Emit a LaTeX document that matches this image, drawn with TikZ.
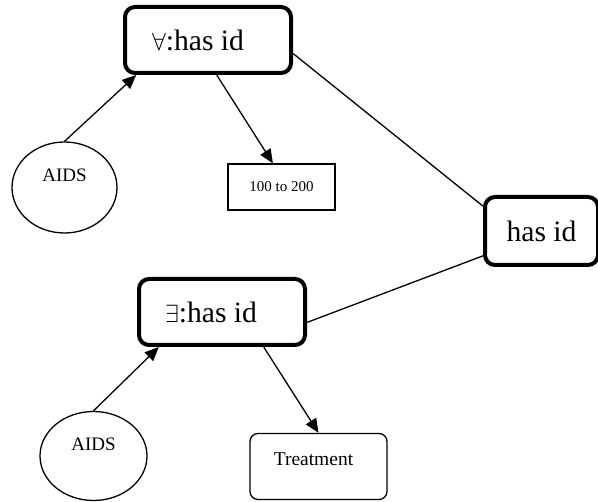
\documentclass[tikz,border=0pt]{standalone}
\usepackage{fontspec}
\setmainfont{Liberation Serif}
\usepackage{tikz}
\usetikzlibrary{arrows.meta,shapes.geometric}

\begin{document}
\begin{tikzpicture}[x=1pt,y=1pt]
  \tikzstyle{relbox}=[draw,rounded corners=10pt,line width=4pt,minimum width=166pt,minimum height=66pt,font=\fontsize{29.6}{34}\selectfont]
  \tikzstyle{concept}=[draw,ellipse,line width=1.3pt,font=\fontsize{19}{22}\selectfont,text depth=24pt]
  \tikzstyle{link}=[line width=1.3pt]
  \tikzstyle{arr}=[link,-{Triangle[length=14pt,width=12pt]}]
  \useasboundingbox (0,0) rectangle (598,502);
  \node[relbox] (fa) at (208,462) {\hspace*{-20pt}$\forall$:has id};
  \node[concept,minimum width=105pt,minimum height=91pt] (aids1) at (64.5,314.5) {AIDS};
  \node[draw,line width=1.3pt,minimum width=107pt,minimum height=46pt,font=\fontsize{15}{18}\selectfont] (range) at (281.5,315) {100 to 200};
  \node[relbox,minimum width=113pt,minimum height=68pt] (hasid) at (541.5,271) {has id};
  \node[relbox] (ex) at (222,190) {\hspace*{-22pt}$\exists$:has id};
  \node[concept,minimum width=107pt,minimum height=89pt] (aids2) at (93.5,46) {AIDS};
  \node[draw,rounded corners=8pt,line width=1.3pt,minimum width=137pt,minimum height=66pt,font=\fontsize{19.5}{22}\selectfont,text depth=14pt] (treat) at (318.5,35.5) {\hspace*{-10pt}Treatment};
  \draw[arr] (aids1.north) -- (fa.206);
  \draw[arr] (fa.-76) -- (range.110);
  \draw[link] (fa.-9) -- (hasid.157);
  \draw[link] (hasid.203) -- (ex.-7);
  \draw[arr] (aids2.north) -- (ex.209);
  \draw[arr] (ex.-40) -- (treat.north);
\end{tikzpicture}
\end{document}
